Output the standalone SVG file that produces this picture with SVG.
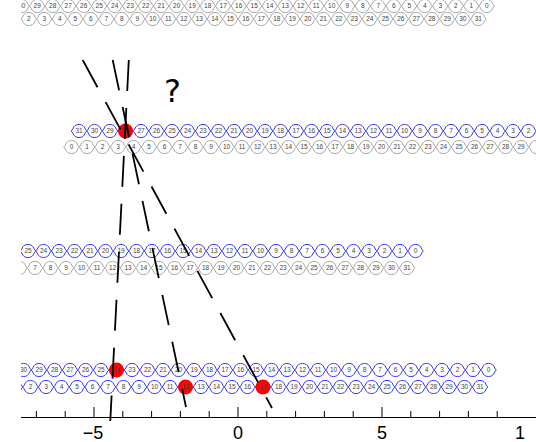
<svg xmlns="http://www.w3.org/2000/svg" xmlns:xlink="http://www.w3.org/1999/xlink" width="536" height="442" viewBox="0 0 536 442">
<style>
.g{fill:#fff;stroke:#a8a8a8;stroke-width:1}
.b{fill:#fff;stroke:#3a3aff;stroke-width:1}
.t{font-family:"Liberation Sans",Arial,sans-serif;font-size:6.5px;fill:#444;text-anchor:middle}
.red{fill:#ff0000}
.dash{stroke:#000;stroke-width:1.8;stroke-dasharray:31 17;fill:none}
.ax{stroke:#000;stroke-width:1;fill:none}
.lab{font-family:"Liberation Sans",Arial,sans-serif;font-size:18px;fill:#000;text-anchor:middle}
</style>
<defs>
<path id="c" d="M-7.75,0 L-6.2,-2 A6.5,6.5 0 0 1 6.2,-2 L7.75,0 L6.2,2 A6.5,6.5 0 0 1 -6.2,2 Z"/>
<clipPath id="clip"><rect x="21" y="0" width="515" height="442"/></clipPath>
</defs>
<rect width="536" height="442" fill="#fff"/>
<g clip-path="url(#clip)">
<g id="rowA-top" transform="translate(6.2,6)">
<g class="g"><use href="#c" x="15.5"/><use href="#c" x="31"/><use href="#c" x="46.5"/><use href="#c" x="62"/><use href="#c" x="77.5"/><use href="#c" x="93"/><use href="#c" x="108.5"/><use href="#c" x="124"/><use href="#c" x="139.5"/><use href="#c" x="155"/><use href="#c" x="170.5"/><use href="#c" x="186"/><use href="#c" x="201.5"/><use href="#c" x="217"/><use href="#c" x="232.5"/><use href="#c" x="248"/><use href="#c" x="263.5"/><use href="#c" x="279"/><use href="#c" x="294.5"/><use href="#c" x="310"/><use href="#c" x="325.5"/><use href="#c" x="341"/><use href="#c" x="356.5"/><use href="#c" x="372"/><use href="#c" x="387.5"/><use href="#c" x="403"/><use href="#c" x="418.5"/><use href="#c" x="434"/><use href="#c" x="449.5"/><use href="#c" x="465"/><use href="#c" x="480.5"/></g>
<g class="t"><text x="15.5" y="2.3">30</text><text x="31" y="2.3">29</text><text x="46.5" y="2.3">28</text><text x="62" y="2.3">27</text><text x="77.5" y="2.3">26</text><text x="93" y="2.3">25</text><text x="108.5" y="2.3">24</text><text x="124" y="2.3">23</text><text x="139.5" y="2.3">22</text><text x="155" y="2.3">21</text><text x="170.5" y="2.3">20</text><text x="186" y="2.3">19</text><text x="201.5" y="2.3">18</text><text x="217" y="2.3">17</text><text x="232.5" y="2.3">16</text><text x="248" y="2.3">15</text><text x="263.5" y="2.3">14</text><text x="279" y="2.3">13</text><text x="294.5" y="2.3">12</text><text x="310" y="2.3">11</text><text x="325.5" y="2.3">10</text><text x="341" y="2.3">9</text><text x="356.5" y="2.3">8</text><text x="372" y="2.3">7</text><text x="387.5" y="2.3">6</text><text x="403" y="2.3">5</text><text x="418.5" y="2.3">4</text><text x="434" y="2.3">3</text><text x="449.5" y="2.3">2</text><text x="465" y="2.3">1</text><text x="480.5" y="2.3">0</text></g>
</g>
<g id="rowA-bottom" transform="translate(-2.2,19)">
<g class="g"><use href="#c" x="15.5"/><use href="#c" x="31"/><use href="#c" x="46.5"/><use href="#c" x="62"/><use href="#c" x="77.5"/><use href="#c" x="93"/><use href="#c" x="108.5"/><use href="#c" x="124"/><use href="#c" x="139.5"/><use href="#c" x="155"/><use href="#c" x="170.5"/><use href="#c" x="186"/><use href="#c" x="201.5"/><use href="#c" x="217"/><use href="#c" x="232.5"/><use href="#c" x="248"/><use href="#c" x="263.5"/><use href="#c" x="279"/><use href="#c" x="294.5"/><use href="#c" x="310"/><use href="#c" x="325.5"/><use href="#c" x="341"/><use href="#c" x="356.5"/><use href="#c" x="372"/><use href="#c" x="387.5"/><use href="#c" x="403"/><use href="#c" x="418.5"/><use href="#c" x="434"/><use href="#c" x="449.5"/><use href="#c" x="465"/><use href="#c" x="480.5"/></g>
<g class="t"><text x="15.5" y="2.3">1</text><text x="31" y="2.3">2</text><text x="46.5" y="2.3">3</text><text x="62" y="2.3">4</text><text x="77.5" y="2.3">5</text><text x="93" y="2.3">6</text><text x="108.5" y="2.3">7</text><text x="124" y="2.3">8</text><text x="139.5" y="2.3">9</text><text x="155" y="2.3">10</text><text x="170.5" y="2.3">11</text><text x="186" y="2.3">12</text><text x="201.5" y="2.3">13</text><text x="217" y="2.3">14</text><text x="232.5" y="2.3">15</text><text x="248" y="2.3">16</text><text x="263.5" y="2.3">17</text><text x="279" y="2.3">18</text><text x="294.5" y="2.3">19</text><text x="310" y="2.3">20</text><text x="325.5" y="2.3">21</text><text x="341" y="2.3">22</text><text x="356.5" y="2.3">23</text><text x="372" y="2.3">24</text><text x="387.5" y="2.3">25</text><text x="403" y="2.3">26</text><text x="418.5" y="2.3">27</text><text x="434" y="2.3">28</text><text x="449.5" y="2.3">29</text><text x="465" y="2.3">30</text><text x="480.5" y="2.3">31</text></g>
</g>
<g id="rowB-top" transform="translate(79,131)">
<g class="b"><use href="#c" x="0"/><use href="#c" x="15.5"/><use href="#c" x="31"/><use href="#c" x="46.5"/><use href="#c" x="62"/><use href="#c" x="77.5"/><use href="#c" x="93"/><use href="#c" x="108.5"/><use href="#c" x="124"/><use href="#c" x="139.5"/><use href="#c" x="155"/><use href="#c" x="170.5"/><use href="#c" x="186"/><use href="#c" x="201.5"/><use href="#c" x="217"/><use href="#c" x="232.5"/><use href="#c" x="248"/><use href="#c" x="263.5"/><use href="#c" x="279"/><use href="#c" x="294.5"/><use href="#c" x="310"/><use href="#c" x="325.5"/><use href="#c" x="341"/><use href="#c" x="356.5"/><use href="#c" x="372"/><use href="#c" x="387.5"/><use href="#c" x="403"/><use href="#c" x="418.5"/><use href="#c" x="434"/><use href="#c" x="449.5"/></g>
<circle class="red" cx="46.5" cy="0" r="7.5"/>
<g class="t"><text x="0" y="2.3">31</text><text x="15.5" y="2.3">30</text><text x="31" y="2.3">29</text><text x="46.5" y="2.3">28</text><text x="62" y="2.3">27</text><text x="77.5" y="2.3">26</text><text x="93" y="2.3">25</text><text x="108.5" y="2.3">24</text><text x="124" y="2.3">23</text><text x="139.5" y="2.3">22</text><text x="155" y="2.3">21</text><text x="170.5" y="2.3">20</text><text x="186" y="2.3">19</text><text x="201.5" y="2.3">18</text><text x="217" y="2.3">17</text><text x="232.5" y="2.3">16</text><text x="248" y="2.3">15</text><text x="263.5" y="2.3">14</text><text x="279" y="2.3">13</text><text x="294.5" y="2.3">12</text><text x="310" y="2.3">11</text><text x="325.5" y="2.3">10</text><text x="341" y="2.3">9</text><text x="356.5" y="2.3">8</text><text x="372" y="2.3">7</text><text x="387.5" y="2.3">6</text><text x="403" y="2.3">5</text><text x="418.5" y="2.3">4</text><text x="434" y="2.3">3</text><text x="449.5" y="2.3">2</text></g>
</g>
<g id="rowB-bottom" transform="translate(71.5,147)">
<g class="g"><use href="#c" x="0"/><use href="#c" x="15.5"/><use href="#c" x="31"/><use href="#c" x="46.5"/><use href="#c" x="62"/><use href="#c" x="77.5"/><use href="#c" x="93"/><use href="#c" x="108.5"/><use href="#c" x="124"/><use href="#c" x="139.5"/><use href="#c" x="155"/><use href="#c" x="170.5"/><use href="#c" x="186"/><use href="#c" x="201.5"/><use href="#c" x="217"/><use href="#c" x="232.5"/><use href="#c" x="248"/><use href="#c" x="263.5"/><use href="#c" x="279"/><use href="#c" x="294.5"/><use href="#c" x="310"/><use href="#c" x="325.5"/><use href="#c" x="341"/><use href="#c" x="356.5"/><use href="#c" x="372"/><use href="#c" x="387.5"/><use href="#c" x="403"/><use href="#c" x="418.5"/><use href="#c" x="434"/><use href="#c" x="449.5"/><use href="#c" x="465"/></g>
<g class="t"><text x="0" y="2.3">0</text><text x="15.5" y="2.3">1</text><text x="31" y="2.3">2</text><text x="46.5" y="2.3">3</text><text x="62" y="2.3">4</text><text x="77.5" y="2.3">5</text><text x="93" y="2.3">6</text><text x="108.5" y="2.3">7</text><text x="124" y="2.3">8</text><text x="139.5" y="2.3">9</text><text x="155" y="2.3">10</text><text x="170.5" y="2.3">11</text><text x="186" y="2.3">12</text><text x="201.5" y="2.3">13</text><text x="217" y="2.3">14</text><text x="232.5" y="2.3">15</text><text x="248" y="2.3">16</text><text x="263.5" y="2.3">17</text><text x="279" y="2.3">18</text><text x="294.5" y="2.3">19</text><text x="310" y="2.3">20</text><text x="325.5" y="2.3">21</text><text x="341" y="2.3">22</text><text x="356.5" y="2.3">23</text><text x="372" y="2.3">24</text><text x="387.5" y="2.3">25</text><text x="403" y="2.3">26</text><text x="418.5" y="2.3">27</text><text x="434" y="2.3">28</text><text x="449.5" y="2.3">29</text></g>
</g>
<g id="rowC-top" transform="translate(12.5,251)">
<g class="b"><use href="#c" x="0"/><use href="#c" x="15.5"/><use href="#c" x="31"/><use href="#c" x="46.5"/><use href="#c" x="62"/><use href="#c" x="77.5"/><use href="#c" x="93"/><use href="#c" x="108.5"/><use href="#c" x="124"/><use href="#c" x="139.5"/><use href="#c" x="155"/><use href="#c" x="170.5"/><use href="#c" x="186"/><use href="#c" x="201.5"/><use href="#c" x="217"/><use href="#c" x="232.5"/><use href="#c" x="248"/><use href="#c" x="263.5"/><use href="#c" x="279"/><use href="#c" x="294.5"/><use href="#c" x="310"/><use href="#c" x="325.5"/><use href="#c" x="341"/><use href="#c" x="356.5"/><use href="#c" x="372"/><use href="#c" x="387.5"/><use href="#c" x="403"/></g>
<g class="t"><text x="15.5" y="2.3">25</text><text x="31" y="2.3">24</text><text x="46.5" y="2.3">23</text><text x="62" y="2.3">22</text><text x="77.5" y="2.3">21</text><text x="93" y="2.3">20</text><text x="108.5" y="2.3">19</text><text x="124" y="2.3">18</text><text x="139.5" y="2.3">17</text><text x="155" y="2.3">16</text><text x="170.5" y="2.3">15</text><text x="186" y="2.3">14</text><text x="201.5" y="2.3">13</text><text x="217" y="2.3">12</text><text x="232.5" y="2.3">11</text><text x="248" y="2.3">10</text><text x="263.5" y="2.3">9</text><text x="279" y="2.3">8</text><text x="294.5" y="2.3">7</text><text x="310" y="2.3">6</text><text x="325.5" y="2.3">5</text><text x="341" y="2.3">4</text><text x="356.5" y="2.3">3</text><text x="372" y="2.3">2</text><text x="387.5" y="2.3">1</text><text x="403" y="2.3">0</text></g>
</g>
<g id="rowC-bottom" transform="translate(-73.5,268)">
<g class="g"><use href="#c" x="93"/><use href="#c" x="108.5"/><use href="#c" x="124"/><use href="#c" x="139.5"/><use href="#c" x="155"/><use href="#c" x="170.5"/><use href="#c" x="186"/><use href="#c" x="201.5"/><use href="#c" x="217"/><use href="#c" x="232.5"/><use href="#c" x="248"/><use href="#c" x="263.5"/><use href="#c" x="279"/><use href="#c" x="294.5"/><use href="#c" x="310"/><use href="#c" x="325.5"/><use href="#c" x="341"/><use href="#c" x="356.5"/><use href="#c" x="372"/><use href="#c" x="387.5"/><use href="#c" x="403"/><use href="#c" x="418.5"/><use href="#c" x="434"/><use href="#c" x="449.5"/><use href="#c" x="465"/><use href="#c" x="480.5"/></g>
<g class="t"><text x="108.5" y="2.3">7</text><text x="124" y="2.3">8</text><text x="139.5" y="2.3">9</text><text x="155" y="2.3">10</text><text x="170.5" y="2.3">11</text><text x="186" y="2.3">12</text><text x="201.5" y="2.3">13</text><text x="217" y="2.3">14</text><text x="232.5" y="2.3">15</text><text x="248" y="2.3">16</text><text x="263.5" y="2.3">17</text><text x="279" y="2.3">18</text><text x="294.5" y="2.3">19</text><text x="310" y="2.3">20</text><text x="325.5" y="2.3">21</text><text x="341" y="2.3">22</text><text x="356.5" y="2.3">23</text><text x="372" y="2.3">24</text><text x="387.5" y="2.3">25</text><text x="403" y="2.3">26</text><text x="418.5" y="2.3">27</text><text x="434" y="2.3">28</text><text x="449.5" y="2.3">29</text><text x="465" y="2.3">30</text><text x="480.5" y="2.3">31</text></g>
</g>
<g id="rowD-top" transform="translate(8,370)">
<g class="b"><use href="#c" x="15.5"/><use href="#c" x="31"/><use href="#c" x="46.5"/><use href="#c" x="62"/><use href="#c" x="77.5"/><use href="#c" x="93"/><use href="#c" x="108.5"/><use href="#c" x="124"/><use href="#c" x="139.5"/><use href="#c" x="155"/><use href="#c" x="170.5"/><use href="#c" x="186"/><use href="#c" x="201.5"/><use href="#c" x="217"/><use href="#c" x="232.5"/><use href="#c" x="248"/><use href="#c" x="263.5"/><use href="#c" x="279"/><use href="#c" x="294.5"/><use href="#c" x="310"/><use href="#c" x="325.5"/><use href="#c" x="341"/><use href="#c" x="356.5"/><use href="#c" x="372"/><use href="#c" x="387.5"/><use href="#c" x="403"/><use href="#c" x="418.5"/><use href="#c" x="434"/><use href="#c" x="449.5"/><use href="#c" x="465"/><use href="#c" x="480.5"/></g>
<circle class="red" cx="108.5" cy="0" r="7.5"/>
<g class="t"><text x="15.5" y="2.3">30</text><text x="31" y="2.3">29</text><text x="46.5" y="2.3">28</text><text x="62" y="2.3">27</text><text x="77.5" y="2.3">26</text><text x="93" y="2.3">25</text><text x="108.5" y="2.3">24</text><text x="124" y="2.3">23</text><text x="139.5" y="2.3">22</text><text x="155" y="2.3">21</text><text x="170.5" y="2.3">20</text><text x="186" y="2.3">19</text><text x="201.5" y="2.3">18</text><text x="217" y="2.3">17</text><text x="232.5" y="2.3">16</text><text x="248" y="2.3">15</text><text x="263.5" y="2.3">14</text><text x="279" y="2.3">13</text><text x="294.5" y="2.3">12</text><text x="310" y="2.3">11</text><text x="325.5" y="2.3">10</text><text x="341" y="2.3">9</text><text x="356.5" y="2.3">8</text><text x="372" y="2.3">7</text><text x="387.5" y="2.3">6</text><text x="403" y="2.3">5</text><text x="418.5" y="2.3">4</text><text x="434" y="2.3">3</text><text x="449.5" y="2.3">2</text><text x="465" y="2.3">1</text><text x="480.5" y="2.3">0</text></g>
</g>
<g id="rowD-bottom" transform="translate(-0.5,387)">
<g class="b"><use href="#c" x="15.5"/><use href="#c" x="31"/><use href="#c" x="46.5"/><use href="#c" x="62"/><use href="#c" x="77.5"/><use href="#c" x="93"/><use href="#c" x="108.5"/><use href="#c" x="124"/><use href="#c" x="139.5"/><use href="#c" x="155"/><use href="#c" x="170.5"/><use href="#c" x="186"/><use href="#c" x="201.5"/><use href="#c" x="217"/><use href="#c" x="232.5"/><use href="#c" x="248"/><use href="#c" x="263.5"/><use href="#c" x="279"/><use href="#c" x="294.5"/><use href="#c" x="310"/><use href="#c" x="325.5"/><use href="#c" x="341"/><use href="#c" x="356.5"/><use href="#c" x="372"/><use href="#c" x="387.5"/><use href="#c" x="403"/><use href="#c" x="418.5"/><use href="#c" x="434"/><use href="#c" x="449.5"/><use href="#c" x="465"/><use href="#c" x="480.5"/></g>
<circle class="red" cx="186" cy="0" r="7.5"/>
<circle class="red" cx="263.5" cy="0" r="7.5"/>
<g class="t"><text x="31" y="2.3">2</text><text x="46.5" y="2.3">3</text><text x="62" y="2.3">4</text><text x="77.5" y="2.3">5</text><text x="93" y="2.3">6</text><text x="108.5" y="2.3">7</text><text x="124" y="2.3">8</text><text x="139.5" y="2.3">9</text><text x="155" y="2.3">10</text><text x="170.5" y="2.3">11</text><text x="186" y="2.3">12</text><text x="201.5" y="2.3">13</text><text x="217" y="2.3">14</text><text x="232.5" y="2.3">15</text><text x="248" y="2.3">16</text><text x="263.5" y="2.3">17</text><text x="279" y="2.3">18</text><text x="294.5" y="2.3">19</text><text x="310" y="2.3">20</text><text x="325.5" y="2.3">21</text><text x="341" y="2.3">22</text><text x="356.5" y="2.3">23</text><text x="372" y="2.3">24</text><text x="387.5" y="2.3">25</text><text x="403" y="2.3">26</text><text x="418.5" y="2.3">27</text><text x="434" y="2.3">28</text><text x="449.5" y="2.3">29</text><text x="465" y="2.3">30</text><text x="480.5" y="2.3">31</text></g>
</g>
<g id="connectors" class="dash">
<line x1="82.7" y1="60" x2="272" y2="408"/>
<line x1="112.7" y1="60" x2="186" y2="407"/>
<line x1="128.8" y1="60" x2="110.3" y2="421"/>
</g>
</g>
<text id="question" x="164" y="102" font-family="DejaVu Sans, sans-serif" font-size="32" fill="#000">?</text>
<g id="axis">
<line class="ax" x1="21" y1="417.5" x2="536" y2="417.5"/>
<path class="ax" d="M36.4,411V417.5M65.2,411V417.5M94,407V417.5M122.8,411V417.5M151.6,411V417.5M180.4,411V417.5M209.2,411V417.5M238,407V417.5M266.8,411V417.5M295.6,411V417.5M324.4,411V417.5M353.2,411V417.5M382,407V417.5M410.8,411V417.5M439.6,411V417.5M468.4,411V417.5M497.2,411V417.5"/>
<text class="lab" x="93" y="439">−5</text>
<text class="lab" x="238" y="439">0</text>
<text class="lab" x="382" y="439">5</text>
<text class="lab" x="520" y="439">1</text>
</g>
</svg>
